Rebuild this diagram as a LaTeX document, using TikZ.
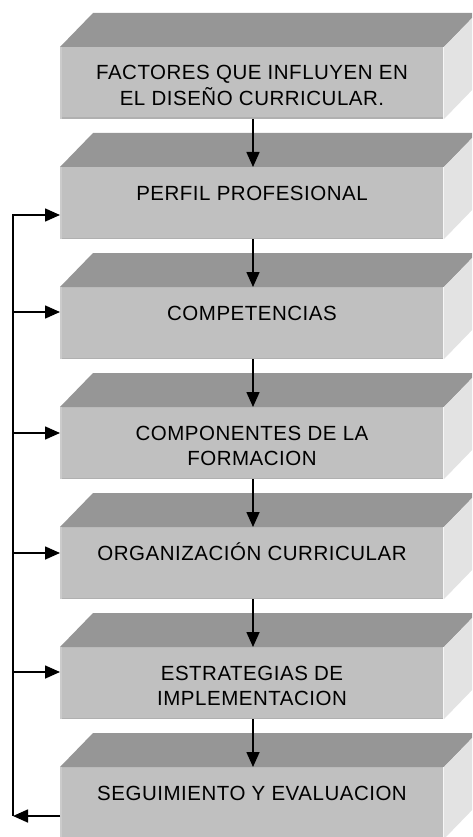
\documentclass[tikz,border=0pt]{standalone}
\usepackage{fontspec}
\setmainfont{Liberation Sans}[LetterSpace=2.5]
\usetikzlibrary{arrows.meta}
\definecolor{frontc}{HTML}{C0C0C0}
\definecolor{topc}{HTML}{969696}
\definecolor{sidec}{HTML}{E3E3E3}
\definecolor{edgeL}{HTML}{CBCBCB}
\definecolor{edgeB}{HTML}{B0B0B0}
\newcommand{\boxtxt}[1]{\parbox[c][72pt][t]{384pt}{\centering\fontsize{20.5}{25.5}\selectfont\rule{0pt}{33pt}#1}}
\tikzset{
  x=1pt, y=-1pt,
  front/.style={fill=frontc, inner sep=0pt, outer sep=0pt, anchor=north west, minimum width=384pt, minimum height=72pt},
  topface/.style={fill=topc},
  sideface/.style={fill=sidec},
  flow/.style={line width=1.6pt, -{Triangle[width=13pt,length=15pt]}},
  fline/.style={line width=1.6pt}
}
\newcommand{\solid}[3]{%
  \node[front] (#1) at (60,#2) {\boxtxt{#3}};
  \fill[topface] (#1.north west) -- ++(33,-34) -- ++(384,0) -- (#1.north east) -- cycle;
  \fill[sideface] (#1.north east) -- ++(33,-34) -- ++(0,72) -- (#1.south east) -- cycle;
  \draw[edgeB, line width=1.5pt] ([yshift=0.75pt]#1.south west) -- ([yshift=0.75pt]#1.south east);
  \draw[edgeL, line width=1.5pt] ([xshift=0.75pt]#1.north west) -- ([xshift=0.75pt]#1.south west);
  \draw[white!85!frontc, line width=1pt] ([xshift=-0.5pt]#1.north east) -- ([xshift=-0.5pt]#1.south east);
}
\begin{document}
\begin{tikzpicture}
\useasboundingbox (0,0) rectangle (472,837);
\clip (0,0) rectangle (472,837);
\solid{b1}{47}{FACTORES QUE INFLUYEN EN\\EL DISEÑO CURRICULAR.}
\solid{b2}{167}{PERFIL PROFESIONAL}
\solid{b3}{287}{COMPETENCIAS}
\solid{b4}{407}{COMPONENTES DE LA\\FORMACION}
\solid{b5}{527}{ORGANIZACIÓN CURRICULAR}
\solid{b6}{647}{ESTRATEGIAS DE\\IMPLEMENTACION}
\solid{b7}{767}{SEGUIMIENTO Y EVALUACION}
\foreach \a/\b in {b1/b2,b2/b3,b3/b4,b4/b5,b5/b6,b6/b7}{
  \draw[flow] ([xshift=1pt]\a.south) -- ([xshift=1pt]\b.north);
}
\coordinate (k2) at (13,215);
\coordinate (k3) at (13,312);
\coordinate (k4) at (13,433);
\coordinate (k5) at (13,553);
\coordinate (k6) at (13,672);
\coordinate (k7) at (13,816);
\draw[fline] (k2) -- (k7);
\draw[flow] (k7 -| b7.west) -- (k7);
\foreach \k/\b in {k2/b2,k3/b3,k4/b4,k5/b5,k6/b6}{
  \draw[flow] ([xshift=-0.8pt]\k) -- (\k -| \b.west);
}
\end{tikzpicture}
\end{document}
